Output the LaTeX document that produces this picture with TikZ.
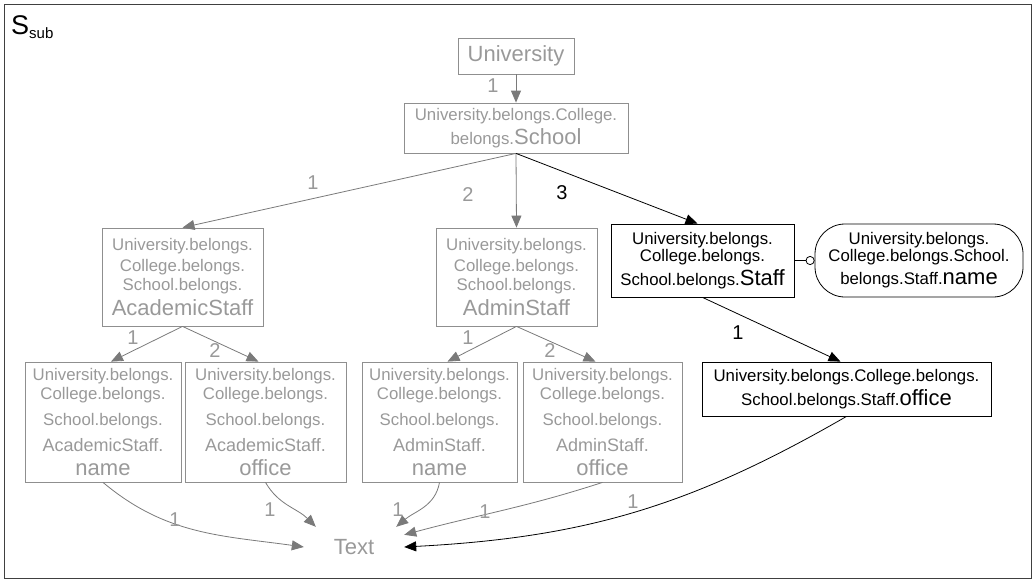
\documentclass[tikz,border=0pt]{standalone}
\usepackage{fontspec}
\setmainfont{Liberation Sans}
\usetikzlibrary{arrows.meta}

\definecolor{ltext}{HTML}{999999}
\definecolor{lline}{HTML}{8F8F8F}
\definecolor{larrow}{HTML}{7A7A7A}
\definecolor{framecol}{HTML}{404040}

\newcommand\fsm{\fontsize{16.8}{19}\selectfont}
\newcommand\fmd{\fontsize{18}{19}\selectfont}
\newcommand\fbg{\fontsize{22}{19}\selectfont}
\newcommand\flb{\fontsize{20}{20}\selectfont}

\begin{document}
\begin{tikzpicture}[x=1pt,y=-1pt,
  gbox/.style={draw=lline, line width=0.8pt, text=ltext, align=center, inner sep=0pt, font=\fsm},
  kbox/.style={draw=black, line width=0.8pt, text=black, align=center, inner sep=0pt, font=\fsm},
  garrow/.style={draw=larrow, line width=0.8pt, -{Triangle[length=12pt,width=10pt]}},
  karrow/.style={draw=black, line width=0.8pt, -{Triangle[length=12pt,width=10pt]}},
  glab/.style={text=ltext, font=\flb, inner sep=0pt},
  klab/.style={text=black, font=\flb, inner sep=0pt},
  leafbox/.style={gbox, minimum height=120pt},
]
\useasboundingbox (0,0) rectangle (1035,581);
\draw[framecol, line width=1pt] (4,4) rectangle (1031,578);

\node[anchor=base west, inner sep=0pt, font=\fontsize{27}{27}\selectfont] (ssub) at (11,34)
  {S\raisebox{-4pt}{\fontsize{15}{15}\selectfont sub}};

% tree of paths
\node[gbox, minimum width=116pt, minimum height=36pt, font=\fbg] (univ) at (516,56) {University};
\node[gbox, minimum width=224pt, minimum height=50pt] (school) at (516,128)
  {University.belongs.College.\\[4pt]belongs.{\fbg School}};

\node[gbox, minimum width=161pt, minimum height=98pt] (acad) at (182.5,277)
  {University.belongs.\\[2pt]College.belongs.\\School.belongs.\\[5pt]{\fbg AcademicStaff}};
\node[gbox, minimum width=161pt, minimum height=98pt] (admin) at (516.5,277)
  {University.belongs.\\[2pt]College.belongs.\\School.belongs.\\[5pt]{\fbg AdminStaff}};

\node[kbox, minimum width=183pt, minimum height=73pt] (staff) at (702.5,260.5)
  {University.belongs.\\[-2pt]College.belongs.\\[4pt]School.belongs.{\fbg Staff}};
\node[kbox, minimum width=208pt, minimum height=73pt, rounded corners=30pt] (sname) at (919,260.5)
  {University.belongs.\\[-2pt]College.belongs.School.\\[4pt]belongs.Staff.{\fbg name}};
\node[kbox, minimum width=289pt, minimum height=54pt] (office) at (846.5,389)
  {University.belongs.College.belongs.\\[3pt]School.belongs.Staff.{\fbg office}};

\node[leafbox, minimum width=156pt] (an) at (103,422)
  {University.belongs.\\College.belongs.\\[7pt]School.belongs.\\[7pt]{\fmd AcademicStaff.}\\[5pt]{\fbg name}};
\node[leafbox, minimum width=161pt] (ao) at (265.5,422)
  {University.belongs.\\College.belongs.\\[7pt]School.belongs.\\[7pt]{\fmd AcademicStaff.}\\[5pt]{\fbg office}};
\node[leafbox, minimum width=155pt] (dn) at (439.5,422)
  {University.belongs.\\College.belongs.\\[7pt]School.belongs.\\[7pt]{\fmd AdminStaff.}\\[5pt]{\fbg name}};
\node[leafbox, minimum width=159pt] (do) at (602.5,422)
  {University.belongs.\\College.belongs.\\[7pt]School.belongs.\\[7pt]{\fmd AdminStaff.}\\[5pt]{\fbg office}};

\node[text=ltext, font=\fbg, minimum width=100pt, minimum height=40pt, inner sep=0pt] (txt) at (354,547) {Text};

% connectors
\draw[garrow] (univ) -- (school);
\draw[garrow] (school.south) -- (acad.north);
\draw[garrow] (school.south) -- (admin.north);
\draw[karrow] (school.south) -- ([xshift=-5pt]staff.north);
\draw[black, line width=0.8pt, -{Circle[open,length=9pt,width=9pt]}] (staff.east) -- (sname.west);
\draw[karrow] (staff.south) -- ([xshift=-6pt]office.north);

\draw[garrow] (acad.south) -- ([xshift=8pt]an.north);
\draw[garrow] (acad.south) -- ([xshift=-7pt]ao.north);
\draw[garrow] (admin.south) -- ([xshift=8pt]dn.north);
\draw[garrow] (admin.south) -- ([xshift=-7pt]do.north);

\draw[garrow] (an.south) to[out=-40, in=172] (txt.west);
\draw[garrow] (ao.south) to[out=-60, in=135] ([xshift=12pt]txt.north west);
\draw[garrow] (dn.south) to[out=-100, in=40] ([xshift=-8pt]txt.north east);
\draw[garrow] (do.south) to[out=-162, in=15] ([yshift=-8pt]txt.north east);
\draw[karrow] (office.south) to[out=-150, in=3] (txt.east);

% edge labels
\node[glab] (l-univ) at (493,86) {1};
\node[glab] (l-acad) at (313,183) {1};
\node[glab] (l-admin) at (468,195) {2};
\node[klab] (l-staff) at (562,193) {3};
\node[klab] (l-office) at (738,333) {1};
\node[glab] (l-an) at (133,338) {1};
\node[glab] (l-ao) at (215,351) {2};
\node[glab] (l-dn) at (468,338) {1};
\node[glab] (l-do) at (550,351) {2};
\node[glab] (t-an) at (175,520) {1};
\node[glab] (t-ao) at (270,510) {1};
\node[glab] (t-dn) at (398,510) {1};
\node[glab] (t-do) at (485,512) {1};
\node[glab] (t-office) at (633,502) {1};
\end{tikzpicture}
\end{document}
